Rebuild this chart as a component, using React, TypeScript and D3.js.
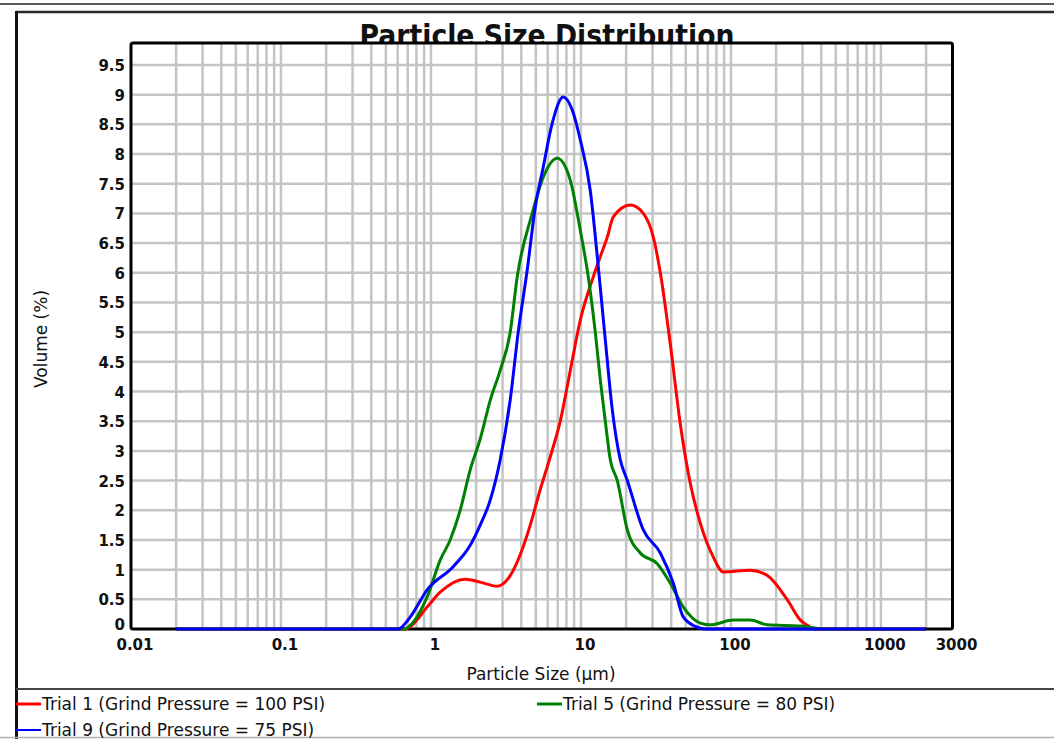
import React, { useEffect, useRef } from 'react';
import * as d3 from 'd3';

// Particle sizes (µm) and volume (%), one pair of arrays per trial
const trial1Size = [0.02, 0.673, 0.726, 0.943, 1.152, 1.691, 2.129, 2.764, 3.376, 3.936, 4.59, 5.353, 6.242, 7.277, 8.485, 9.893, 12.08, 13.45, 14.98, 16.43, 21.33, 26.04, 30.36, 33.81, 39.42, 45.97, 53.6, 62.52, 76.32, 88.99, 134.7, 174.9, 237.8, 290.4, 328.4, 365.6, 2000];
const trial1Volume = [0, 0, 0.04, 0.37, 0.62, 0.84, 0.79, 0.72, 0.9, 1.25, 1.75, 2.35, 2.9, 3.5, 4.35, 5.2, 5.93, 6.27, 6.6, 6.94, 7.14, 7.0, 6.6, 6.0, 4.8, 3.45, 2.45, 1.78, 1.21, 0.96, 0.99, 0.9, 0.49, 0.15, 0.05, 0, 0];

const trial5Size = [0.02, 0.653, 0.943, 1.152, 1.343, 1.566, 1.826, 2.129, 2.483, 2.895, 3.376, 3.758, 4.733, 5.605, 6.95, 8.485, 9.893, 11.19, 12.46, 13.45, 14.53, 15.69, 17.47, 20.37, 24.87, 32.28, 39.42, 48.14, 62.52, 72.88, 103.8, 134.7, 174.9, 290.4, 354.5, 407.2, 2000];
const trial5Volume = [0, 0, 0.54, 1.16, 1.5, 2.0, 2.68, 3.2, 3.85, 4.36, 5.0, 5.93, 7.0, 7.61, 7.93, 7.56, 6.72, 5.93, 5.0, 4.2, 3.5, 2.85, 2.5, 1.67, 1.28, 1.1, 0.77, 0.37, 0.1, 0.07, 0.15, 0.15, 0.07, 0.05, 0.02, 0, 0];

const trial9Size = [0.02, 0.604, 0.726, 0.943, 1.406, 1.826, 2.129, 2.483, 2.895, 3.376, 3.817, 4.384, 4.956, 5.605, 6.436, 7.62, 8.75, 9.893, 11.53, 13.05, 14.53, 16.18, 18.29, 20.37, 26.04, 33.81, 41.28, 48.14, 59.71, 67.49, 2000];
const trial9Volume = [0, 0, 0.2, 0.66, 1.05, 1.41, 1.75, 2.17, 2.85, 3.86, 5.0, 6.05, 7.1, 7.78, 8.52, 8.96, 8.74, 8.24, 7.39, 6.1, 4.87, 3.69, 2.85, 2.5, 1.67, 1.28, 0.77, 0.2, 0.03, 0, 0];

const seriesNames = [
  'Trial 1 (Grind Pressure = 100 PSI)',
  'Trial 5 (Grind Pressure = 80 PSI)',
  'Trial 9 (Grind Pressure = 75 PSI)',
];
const seriesColors = ['#ff0000', '#008000', '#0000ff'];

const xTickValues = [0.01, 0.1, 1, 10, 100, 1000, 3000];
const xTickLabels = ['0.01', '0.1', '1', '10', '100', '1000', '3000'];
const yTickValues = [0, 0.5, 1, 1.5, 2, 2.5, 3, 3.5, 4, 4.5, 5, 5.5, 6, 6.5, 7, 7.5, 8, 8.5, 9, 9.5];
const yTickLabels = ['0', '0.5', '1', '1.5', '2', '2.5', '3', '3.5', '4', '4.5', '5', '5.5', '6', '6.5', '7', '7.5', '8', '8.5', '9', '9.5'];

const App = () => {
  const ref = useRef<SVGSVGElement | null>(null);

  useEffect(() => {
    const width = 1054;
    const height = 739;
    const left = 131, right = 952.5, top = 43, bottom = 629;
    const font = '"DejaVu Sans", Verdana, sans-serif';

    const svg = d3.select(ref.current);
    svg.selectAll('*').remove();

    svg.append('rect').attr('width', width).attr('height', height).attr('fill', '#fff');

    // window frame lines
    svg.append('line').attr('x1', 0).attr('x2', width).attr('y1', 4).attr('y2', 4)
      .attr('stroke', '#5a5a5a').attr('stroke-width', 2);
    svg.append('line').attr('x1', 16).attr('x2', width).attr('y1', 12).attr('y2', 12)
      .attr('stroke', '#2a2a2a').attr('stroke-width', 2.5);
    svg.append('line').attr('x1', 16.5).attr('x2', 16.5).attr('y1', 11).attr('y2', height)
      .attr('stroke', '#111').attr('stroke-width', 3);
    svg.append('line').attr('x1', 16).attr('x2', width).attr('y1', 689).attr('y2', 689)
      .attr('stroke', '#444').attr('stroke-width', 2);
    svg.append('line').attr('x1', 0).attr('x2', width).attr('y1', 737.5).attr('y2', 737.5)
      .attr('stroke', '#b0b0b0').attr('stroke-width', 1.5);

    const x = d3.scaleLog().domain([0.01, 3000]).range([left, right]);
    const y = d3.scaleLinear().domain([0, 9.87]).range([bottom, top]);

    // title (bottom edge hidden behind the plot area, as in the original)
    svg.append('text')
      .attr('x', 547).attr('y', 46)
      .attr('text-anchor', 'middle')
      .attr('font-family', font).attr('font-weight', 'bold').attr('font-size', 31)
      .attr('textLength', 375).attr('lengthAdjust', 'spacingAndGlyphs')
      .attr('fill', '#111')
      .text('Particle Size Distribution');

    svg.append('rect')
      .attr('x', left).attr('y', top).attr('width', right - left).attr('height', bottom - top)
      .attr('fill', '#fff');

    // grid
    const grid = svg.append('g').attr('stroke', '#c4c4c4').attr('stroke-width', 2.5);
    grid.selectAll('line.v')
      .data(x.ticks().filter(v => v > 0.0101 && v < 2999))
      .enter().append('line')
      .attr('x1', d => x(d)).attr('x2', d => x(d))
      .attr('y1', top).attr('y2', bottom);
    grid.selectAll('line.h')
      .data(yTickValues.filter(v => v > 0))
      .enter().append('line')
      .attr('x1', left).attr('x2', right)
      .attr('y1', d => y(d)).attr('y2', d => y(d));

    // plot border
    svg.append('rect')
      .attr('x', left).attr('y', top).attr('width', right - left).attr('height', bottom - top)
      .attr('fill', 'none').attr('stroke', '#000').attr('stroke-width', 3).attr('rx', 2);

    // series
    const series = [
      trial1Size.map((s, i) => [s, trial1Volume[i]]),
      trial5Size.map((s, i) => [s, trial5Volume[i]]),
      trial9Size.map((s, i) => [s, trial9Volume[i]]),
    ];
    const line = d3.line<number[]>()
      .x(d => x(d[0]))
      .y(d => y(d[1]))
      .curve(d3.curveMonotoneX);
    svg.selectAll('path.series')
      .data(series)
      .enter().append('path')
      .attr('d', d => line(d))
      .attr('fill', 'none')
      .attr('stroke', (d, i) => seriesColors[i])
      .attr('stroke-width', 3)
      .attr('stroke-linejoin', 'round');

    // tick labels
    svg.append('g').selectAll('text')
      .data(xTickValues)
      .enter().append('text')
      .attr('x', d => x(d) + 4).attr('y', 650)
      .attr('text-anchor', 'middle')
      .attr('font-family', font).attr('font-weight', 'bold').attr('font-size', 15)
      .attr('fill', '#111')
      .text((d, i) => xTickLabels[i]);
    svg.append('g').selectAll('text')
      .data(yTickValues)
      .enter().append('text')
      .attr('x', 125).attr('y', d => (d === 0 ? y(d) + 1 : y(d) + 6))
      .attr('text-anchor', 'end')
      .attr('font-family', font).attr('font-weight', 'bold').attr('font-size', 15)
      .attr('fill', '#111')
      .text((d, i) => yTickLabels[i]);

    // axis titles
    svg.append('text')
      .attr('x', 541).attr('y', 680)
      .attr('text-anchor', 'middle')
      .attr('font-family', font).attr('font-size', 17).attr('fill', '#111')
      .text('Particle Size (µm)');
    svg.append('text')
      .attr('transform', 'translate(47,339) rotate(-90)')
      .attr('text-anchor', 'middle')
      .attr('font-family', font).attr('font-size', 17).attr('fill', '#111')
      .text('Volume (%)');

    // legend
    const legendPos = [
      { x: 16, y: 704, w: 3 },
      { x: 537, y: 704, w: 3 },
      { x: 16, y: 730, w: 2 },
    ];
    const legend = svg.append('g');
    seriesNames.forEach((name, i) => {
      const p = legendPos[i];
      legend.append('line')
        .attr('x1', p.x).attr('x2', p.x + 25).attr('y1', p.y).attr('y2', p.y)
        .attr('stroke', seriesColors[i]).attr('stroke-width', p.w);
      legend.append('text')
        .attr('x', p.x + 26).attr('y', p.y + 6)
        .attr('font-family', font).attr('font-size', 17).attr('fill', '#111')
        .text(name);
    });
  }, []);

  return (
    <svg ref={ref} width={1054} height={739} style={{ position: 'absolute', left: 0, top: 0 }} />
  );
};

export default App;
